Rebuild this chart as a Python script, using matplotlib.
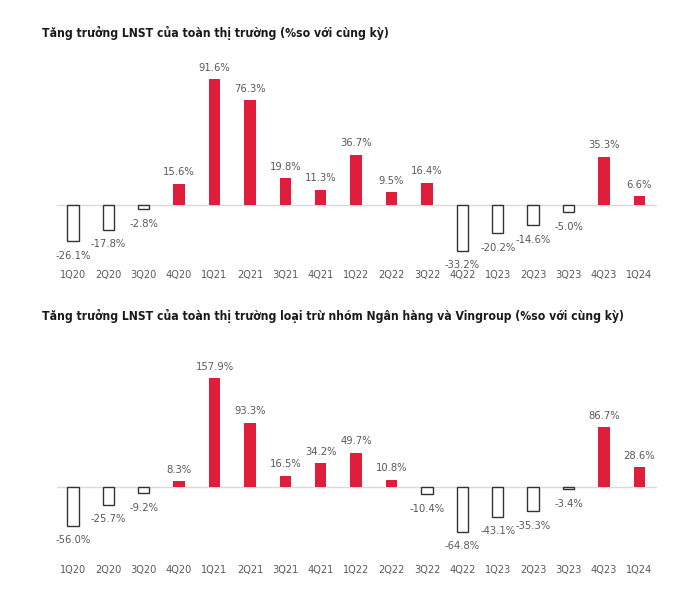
import matplotlib.pyplot as plt
import matplotlib.font_manager as fm

# look for a narrow face (Arial Narrow-like); fall back to Liberation Sans
narrow_reg, narrow_bold = None, None
for f in fm.fontManager.ttflist:
    n = (f.name + ' ' + str(f.stretch)).lower()
    if 'narrow' in n or 'condensed' in n:
        if f.weight in (700, 'bold') and narrow_bold is None:
            narrow_bold = f.fname
        elif f.weight in (400, 'normal', 'regular') and f.style == 'normal' and narrow_reg is None:
            narrow_reg = f.fname

if narrow_reg:
    label_font = fm.FontProperties(fname=narrow_reg, size=8)
    tick_font = fm.FontProperties(fname=narrow_reg, size=7.8)
else:
    label_font = fm.FontProperties(family='Liberation Sans', size=7.6)
    tick_font = fm.FontProperties(family='Liberation Sans', size=7.4)
if narrow_bold:
    title_font = fm.FontProperties(fname=narrow_bold, size=8.7)
else:
    title_font = fm.FontProperties(family='Liberation Sans', weight='bold', size=8.6)

quarters = ['1Q20', '2Q20', '3Q20', '4Q20', '1Q21', '2Q21', '3Q21', '4Q21', '1Q22',
            '2Q22', '3Q22', '4Q22', '1Q23', '2Q23', '3Q23', '4Q23', '1Q24']
growth_all = [-26.1, -17.8, -2.8, 15.6, 91.6, 76.3, 19.8, 11.3, 36.7,
              9.5, 16.4, -33.2, -20.2, -14.6, -5.0, 35.3, 6.6]
growth_ex = [-56.0, -25.7, -9.2, 8.3, 157.9, 93.3, 16.5, 34.2, 49.7,
             10.8, -10.4, -64.8, -43.1, -35.3, -3.4, 86.7, 28.6]

title_1 = 'Tăng trưởng LNST của toàn thị trường (%so với cùng kỳ)'
title_2 = 'Tăng trưởng LNST của toàn thị trường loại trừ nhóm Ngân hàng và Vingroup (%so với cùng kỳ)'

red = '#E01E3C'
grey = '#595959'

W, H = 693, 597
fig = plt.figure(figsize=(W / 100, H / 100), dpi=100)


def draw(ax, values, ylim):
    x = range(len(values))
    for i, v in zip(x, values):
        if v >= 0:
            ax.bar(i, v, width=0.32, color=red, zorder=3)
            ax.annotate(f'{v:.1f}%', (i, v), xytext=(0, 4.5), textcoords='offset points',
                        ha='center', va='bottom', fontproperties=label_font, color=grey)
        else:
            ax.bar(i, v, width=0.32, facecolor='white', edgecolor='#333333',
                   linewidth=1, zorder=3)
            ax.annotate(f'{v:.1f}%', (i, v), xytext=(0, -7), textcoords='offset points',
                        ha='center', va='top', fontproperties=label_font, color=grey)
    ax.axhline(0, color='#d9d9d9', linewidth=1, zorder=2)
    ax.set_xlim(-0.45, len(values) - 0.5)
    ax.set_ylim(*ylim)
    ax.set_xticks(list(x))
    ax.set_xticklabels(quarters, fontproperties=tick_font, color=grey)
    ax.tick_params(axis='x', length=0, pad=2)
    ax.set_yticks([])
    for s in ax.spines.values():
        s.set_visible(False)


# top chart
ax1 = fig.add_axes([57 / W, (H - 267) / H, 600 / W, (267 - 67.5) / H])
draw(ax1, growth_all, (-45, 100))

# bottom chart
ax2 = fig.add_axes([57 / W, (H - 562) / H, 600 / W, (562 - 363) / H])
draw(ax2, growth_ex, (-109, 180))

fig.text(42 / W, 1 - 33 / H, title_1, fontproperties=title_font,
         va='center', ha='left', color='#1a1a1a')
fig.text(42 / W, 1 - 316 / H, title_2, fontproperties=title_font,
         va='center', ha='left', color='#1a1a1a')

fig.savefig('out.png', dpi=100, facecolor='white')
